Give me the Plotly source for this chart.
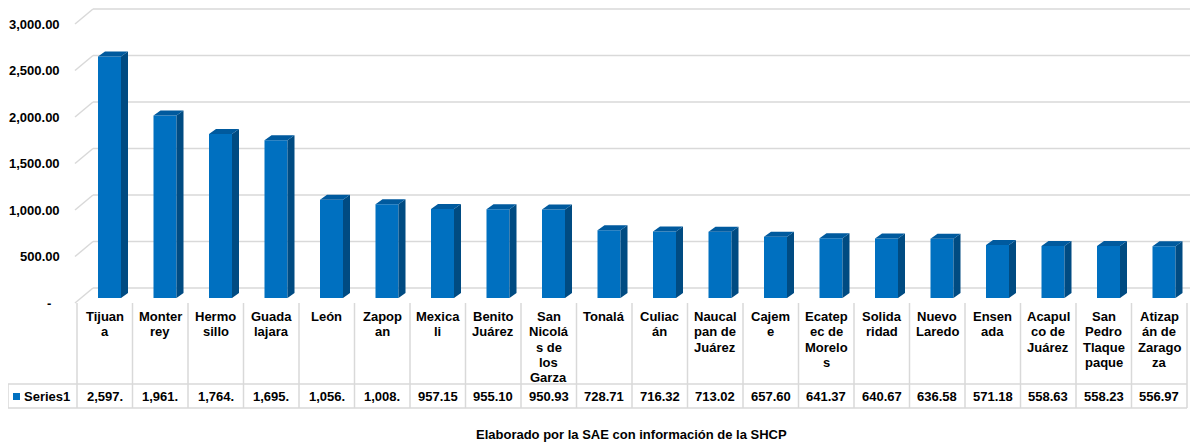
import plotly.graph_objects as go

# municipios y valores (Series1)
categories = ["Tijuana", "Monterrey", "Hermosillo", "Guadalajara", "León", "Zapopan",
              "Mexicali", "Benito Juárez", "San Nicolás de los Garza", "Tonalá",
              "Culiacán", "Naucalpan de Juárez", "Cajeme", "Ecatepec de Morelos",
              "Solidaridad", "Nuevo Laredo", "Ensenada", "Acapulco de Juárez",
              "San Pedro Tlaquepaque", "Atizapán de Zaragoza"]
# as the table cells wrap them
cat_labels = ["Tijuan<br>a", "Monter<br>rey", "Hermo<br>sillo", "Guada<br>lajara", "León",
              "Zapop<br>an", "Mexica<br>li", "Benito<br>Juárez",
              "San<br>Nicolá<br>s de<br>los<br>Garza", "Tonalá", "Culiac<br>án",
              "Naucal<br>pan de<br>Juárez", "Cajem<br>e", "Ecatep<br>ec de<br>Morelo<br>s",
              "Solida<br>ridad", "Nuevo<br>Laredo", "Ensen<br>ada", "Acapul<br>co de<br>Juárez",
              "San<br>Pedro<br>Tlaque<br>paque", "Atizap<br>án de<br>Zarago<br>za"]
values = [2597.35, 1961.42, 1764.28, 1695.61, 1056.47, 1008.83,
          957.15, 955.10, 950.93, 728.71, 716.32, 713.02, 657.60, 641.37,
          640.67, 636.58, 571.18, 558.63, 558.23, 556.97]
tick_vals = [0, 500, 1000, 1500, 2000, 2500, 3000]
tick_text = ["-", "500.00", "1,000.00", "1,500.00", "2,000.00", "2,500.00", "3,000.00"]
series_name = "Series1"
source_note = "Elaborado por la SAE con información de la SHCP"

# the page body has an 8px margin, so the figure sits at (8, 8) in the window
OFF = 8
W, H = 1198 - OFF, 442 - OFF
X0_PX, X1_PX = 77, 1187      # table column edges (window pixels)
Y0_PX = 303                  # value 0 at the front edge of the floor
PX_PER_UNIT = 279 / 3000

n = len(values)
ux = n / (X1_PX - X0_PX)
uy = 1 / PX_PER_UNIT


def dx(px):
    return px * ux


def dy(px):
    return px * uy


def fx(px):
    return -0.5 + (px - X0_PX) * ux


def fy(py):
    return (Y0_PX - py) * uy


FRONT = "#0070C0"
SIDE = "#004B82"
TOP = "#005A9E"
GRID = "#D9D9D9"
FONT = "Arial, Liberation Sans, sans-serif"

bar_off, bar_w = 4.75, 23     # px
depth_x, depth_y = 7, 5       # px
base = dy(5)

fig = go.Figure()
fig.add_trace(go.Bar(x=[i + dx(bar_off) for i in range(n)], y=values, base=base,
                     width=dx(bar_w), marker=dict(color=FRONT, line=dict(width=0)),
                     hoverinfo="skip"))

side_x, side_y, top_x, top_y = [], [], [], []
for i, v in enumerate(values):
    xl = i + dx(bar_off - bar_w / 2)
    xr = i + dx(bar_off + bar_w / 2)
    top = base + v
    side_x += [xr, xr + dx(depth_x), xr + dx(depth_x), xr, None]
    side_y += [base, base + dy(depth_y), top + dy(depth_y), top, None]
    top_x += [xl, xl + dx(depth_x), xr + dx(depth_x), xr, None]
    top_y += [top, top + dy(depth_y), top + dy(depth_y), top, None]
fig.add_trace(go.Scatter(x=side_x, y=side_y, mode="lines", fill="toself", fillcolor=SIDE,
                         line=dict(width=0, color=SIDE), hoverinfo="skip"))
fig.add_trace(go.Scatter(x=top_x, y=top_y, mode="lines", fill="toself", fillcolor=TOP,
                         line=dict(width=0, color=TOP), hoverinfo="skip"))

shapes = []
# back wall gridlines + diagonals
for v in tick_vals:
    shapes.append(dict(type="line", x0=fx(75), y0=v, x1=fx(93), y1=v + dy(15),
                       line=dict(color=GRID, width=1.5), layer="below"))
    shapes.append(dict(type="line", x0=fx(93), y0=v + dy(15), x1=fx(1196), y1=v + dy(15),
                       line=dict(color=GRID, width=1.5), layer="below"))

# data table grid
for k in range(n + 1):
    shapes.append(dict(type="line", x0=-0.5 + k, x1=-0.5 + k, y0=fy(303), y1=fy(408),
                       line=dict(color=GRID, width=1.5)))
shapes.append(dict(type="line", x0=fx(8), x1=fx(8), y0=fy(384), y1=fy(408),
                   line=dict(color=GRID, width=1.5)))
for yy in (384, 408):
    shapes.append(dict(type="line", x0=fx(8), x1=n - 0.5, y0=fy(yy), y1=fy(yy),
                       line=dict(color=GRID, width=1.5)))
shapes.append(dict(type="rect", x0=fx(13), x1=fx(20), y0=fy(400), y1=fy(393),
                   fillcolor=FRONT, line=dict(width=0)))

bold13 = dict(family=FONT, size=13, color="#000", weight="bold")
ann = []
for v, t in zip(tick_vals, tick_text):
    ann.append(dict(x=fx(62), y=v, text=t, xanchor="right", yanchor="middle",
                    xshift=-9 if t == "-" else 0, showarrow=False, font=bold13))
for i, (lab, v) in enumerate(zip(cat_labels, values)):
    # one annotation per wrapped line, tighter leading like the table cell
    for j, part in enumerate(lab.split("<br>")):
        ann.append(dict(x=i, y=fy(316.5 + 15.3 * j), text=part, xanchor="center",
                        yanchor="middle", showarrow=False, font=bold13))
    ann.append(dict(x=i, y=fy(396), text=f"{v:,.2f}"[:6], xanchor="center", yanchor="middle",
                    showarrow=False, font=bold13))
ann.append(dict(x=fx(22), y=fy(396), text=series_name, xanchor="left", yanchor="middle",
                showarrow=False, font=bold13))
ann.append(dict(x=fx(631), y=fy(434), text=source_note, xanchor="center", yanchor="middle",
                showarrow=False, font=bold13))

fig.update_layout(
    width=W, height=H, autosize=False,
    margin=dict(l=0, r=0, t=0, b=0),
    paper_bgcolor="white", plot_bgcolor="white",
    showlegend=False,
    xaxis=dict(range=[fx(OFF), fx(OFF + W)], visible=False, fixedrange=True),
    yaxis=dict(range=[fy(OFF + H), fy(OFF)], visible=False, fixedrange=True),
    shapes=shapes, annotations=ann,
)

fig.write_html("out.html")
